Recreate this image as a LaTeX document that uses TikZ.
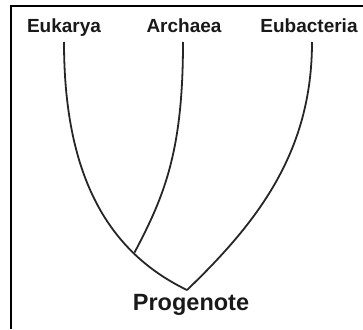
\documentclass[tikz,border=0pt]{standalone}
\usepackage{fontspec}
\setmainfont{Liberation Sans}
\begin{document}
\begin{tikzpicture}[x=1pt,y=-1pt,
  lbl/.style={font=\bfseries\fontsize{19}{19}\selectfont,anchor=base,inner sep=0pt,text=black!90},
  root/.style={font=\bfseries\fontsize{23.5}{23.5}\selectfont,anchor=base,inner sep=0pt,text=black!90},
  branch/.style={line width=1.8pt,black!85}]
\useasboundingbox (0,0) rectangle (363,329);
\draw[line width=2pt] (11,329) -- (11,6) -- (363,6);
\node[lbl] (euk) at (64,33) {Eukarya};
\node[lbl] (arc) at (184,33) {Archaea};
\node[lbl] (eub) at (309,33) {Eubacteria};
\node[root] (pro) at (191,310) {Progenote};
\coordinate (eukT) at (64,42);
\coordinate (arcT) at (183,42);
\coordinate (eubT) at (312,42);
\coordinate (J) at (134.5,252.5);
\coordinate (R) at (187,290);
\draw[branch] (eukT) .. controls (64,170) and (104,250) .. (R);
\draw[branch] (arcT) .. controls (183,150) and (165,195) .. (J);
\draw[branch] (eubT) .. controls (312,150) and (260,220) .. (R);
\end{tikzpicture}
\end{document}
